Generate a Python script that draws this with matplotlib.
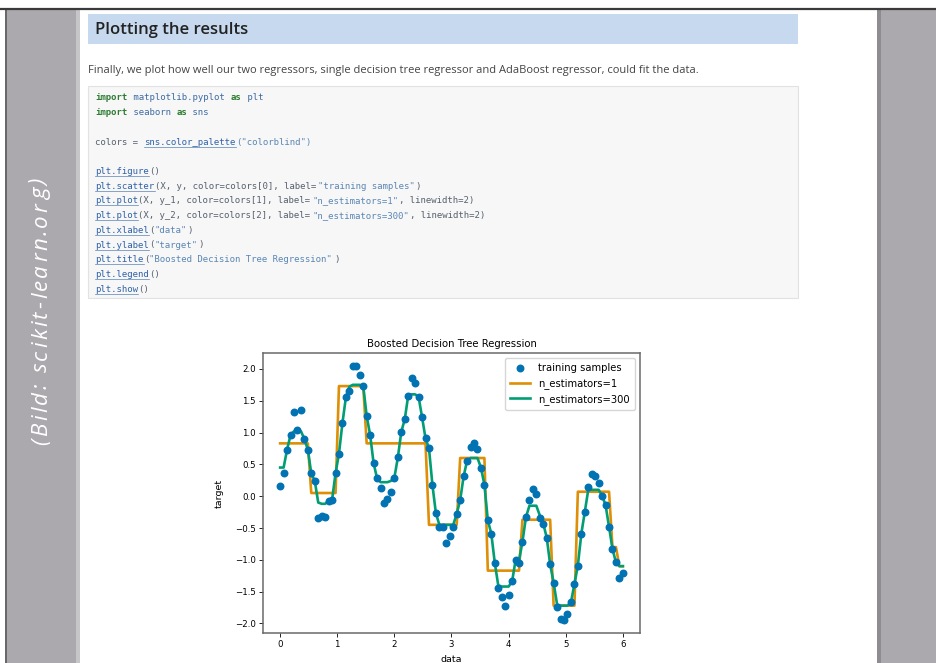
import matplotlib
matplotlib.use("Agg")
import matplotlib.pyplot as plt
from matplotlib.patches import Rectangle

# data
X = [0.0, 0.061, 0.121, 0.182, 0.242, 0.303, 0.364, 0.424, 0.485, 0.545,
     0.606, 0.667, 0.727, 0.788, 0.848, 0.909, 0.970, 1.030, 1.091, 1.152,
     1.212, 1.273, 1.333, 1.394, 1.455, 1.515, 1.576, 1.636, 1.697, 1.758,
     1.818, 1.879, 1.939, 2.0, 2.061, 2.121, 2.182, 2.242, 2.303, 2.364,
     2.424, 2.485, 2.545, 2.606, 2.667, 2.727, 2.788, 2.848, 2.909, 2.970,
     3.030, 3.091, 3.152, 3.212, 3.273, 3.333, 3.394, 3.455, 3.515, 3.576,
     3.636, 3.697, 3.758, 3.818, 3.879, 3.939, 4.0, 4.061, 4.121, 4.182,
     4.242, 4.303, 4.364, 4.424, 4.485, 4.545, 4.606, 4.667, 4.727, 4.788,
     4.848, 4.909, 4.970, 5.030, 5.091, 5.152, 5.212, 5.273, 5.333, 5.394,
     5.455, 5.515, 5.576, 5.636, 5.697, 5.758, 5.818, 5.879, 5.939, 6.0]

y = [0.16, 0.36, 0.73, 0.96, 1.32, 1.04, 1.35, 0.90, 0.73, 0.36,
     0.24, -0.34, -0.31, -0.33, -0.07, -0.06, 0.36, 0.67, 1.15, 1.56,
     1.66, 2.05, 2.05, 1.91, 1.73, 1.26, 0.96, 0.52, 0.28, 0.13,
     -0.10, -0.05, 0.06, 0.29, 0.61, 1.01, 1.21, 1.58, 1.86, 1.78,
     1.56, 1.24, 0.91, 0.75, 0.17, -0.27, -0.49, -0.48, -0.74, -0.63,
     -0.48, -0.28, -0.06, 0.31, 0.56, 0.78, 0.83, 0.74, 0.45, 0.18,
     -0.38, -0.59, -1.05, -1.45, -1.58, -1.72, -1.55, -1.34, -1.01, -1.05,
     -0.72, -0.33, -0.06, 0.12, 0.04, -0.35, -0.43, -0.65, -1.07, -1.36,
     -1.74, -1.93, -1.95, -1.85, -1.67, -1.38, -1.09, -0.59, -0.25, 0.15,
     0.35, 0.32, 0.20, 0.01, -0.14, -0.48, -0.83, -1.04, -1.28, -1.20]

y_1 = [0.83, 0.83, 0.83, 0.83, 0.83, 0.83, 0.83, 0.83, 0.83, 0.05,
       0.05, 0.05, 0.05, 0.05, 0.05, 0.05, 0.05, 1.73, 1.73, 1.73,
       1.73, 1.73, 1.73, 1.73, 1.73, 0.83, 0.83, 0.83, 0.83, 0.83,
       0.83, 0.83, 0.83, 0.83, 0.83, 0.83, 0.83, 0.83, 0.83, 0.83,
       0.83, 0.83, 0.83, -0.45, -0.45, -0.45, -0.45, -0.45, -0.45, -0.45,
       -0.45, -0.45, 0.60, 0.60, 0.60, 0.60, 0.60, 0.60, 0.60, 0.60,
       -1.17, -1.17, -1.17, -1.17, -1.17, -1.17, -1.17, -1.17, -1.17, -1.17,
       -0.37, -0.37, -0.37, -0.37, -0.37, -0.37, -0.37, -0.37, -0.37, -1.72,
       -1.72, -1.72, -1.72, -1.72, -1.72, -1.72, 0.07, 0.07, 0.07, 0.07,
       0.07, 0.07, 0.07, 0.07, 0.07, 0.07, -0.80, -0.80, -1.10, -1.10]

y_2 = [0.45, 0.45, 0.73, 0.96, 1.02, 1.03, 1.02, 0.90, 0.73, 0.36,
       0.24, -0.10, -0.12, -0.12, -0.07, -0.06, 0.36, 0.67, 1.15, 1.56,
       1.72, 1.75, 1.75, 1.75, 1.73, 1.26, 0.96, 0.52, 0.28, 0.22,
       0.22, 0.22, 0.24, 0.29, 0.61, 1.01, 1.21, 1.58, 1.60, 1.60,
       1.56, 1.24, 0.91, 0.75, 0.17, -0.27, -0.45, -0.45, -0.45, -0.45,
       -0.45, -0.28, -0.06, 0.31, 0.56, 0.60, 0.60, 0.60, 0.45, 0.18,
       -0.38, -0.59, -1.05, -1.40, -1.42, -1.42, -1.42, -1.34, -1.01, -1.01,
       -0.72, -0.33, -0.15, -0.15, -0.15, -0.30, -0.43, -0.65, -1.07, -1.36,
       -1.70, -1.72, -1.72, -1.72, -1.67, -1.38, -1.09, -0.59, -0.25, 0.10,
       0.10, 0.10, 0.10, 0.01, -0.14, -0.48, -0.83, -1.04, -1.10, -1.10]

colors = ["#0173b2", "#de8f05", "#029e73"]

KW = "#2e7d32"
NAME = "#3d6aa3"
LINK = "#2f62a8"
STR = "#5a86b5"
TXT = "#56606e"

code_lines = [
    [("import", KW), (" matplotlib.pyplot ", NAME), ("as", KW), (" plt", NAME)],
    [("import", KW), (" seaborn ", NAME), ("as", KW), (" sns", NAME)],
    [],
    [("colors = ", TXT), ("sns.color_palette", LINK), ('("colorblind")', STR)],
    [],
    [("plt.figure", LINK), ("()", TXT)],
    [("plt.scatter", LINK), ("(X, y, color=colors[0], label=", TXT),
     ('"training samples"', STR), (")", TXT)],
    [("plt.plot", LINK), ("(X, y_1, color=colors[1], label=", TXT),
     ('"n_estimators=1"', STR), (", linewidth=2)", TXT)],
    [("plt.plot", LINK), ("(X, y_2, color=colors[2], label=", TXT),
     ('"n_estimators=300"', STR), (", linewidth=2)", TXT)],
    [("plt.xlabel", LINK), ("(", TXT), ('"data"', STR), (")", TXT)],
    [("plt.ylabel", LINK), ("(", TXT), ('"target"', STR), (")", TXT)],
    [("plt.title", LINK), ("(", TXT), ('"Boosted Decision Tree Regression"', STR), (")", TXT)],
    [("plt.legend", LINK), ("()", TXT)],
    [("plt.show", LINK), ("()", TXT)],
]

credit = "(Bild: scikit-learn.org)"

W, H = 937, 663
fig = plt.figure(figsize=(W / 100, H / 100), dpi=100)
fig.patch.set_facecolor("white")

# page in pixel coordinates
bg = fig.add_axes([0, 0, 1, 1])
bg.set_xlim(0, W)
bg.set_ylim(H, 0)
bg.axis("off")

gray = "#aba9ad"
bg.add_patch(Rectangle((7, 9), 69, H, color=gray, lw=0))
bg.add_patch(Rectangle((76, 9), 4, H, color="#c6c6c8", lw=0))
bg.add_patch(Rectangle((877, 9), 4, H, color="#8e8c90", lw=0))
bg.add_patch(Rectangle((881, 9), W - 881, H, color=gray, lw=0))
bg.plot([6.5, 6.5], [9, H], color="#4a4a4a", lw=1.2)
bg.plot([0, W], [9, 9], color="#3a3a3a", lw=1.6)

# credit text with a bit of letter spacing (reads bottom to top)
renderer = fig.canvas.get_renderer()
cfont = dict(fontsize=16, style="italic", family="Open Sans")


def text_w(s):
    t = bg.text(0, 0, s, **cfont)
    w = t.get_window_extent(renderer).width
    t.remove()
    return w


base = text_w("aa")
widths = [text_w("a" + ch + "a") - base for ch in credit]
gap = max(0.5, (265 - sum(widths)) / (len(credit) - 1))
pos = 445
for ch, w in zip(credit, widths):
    bg.text(47, pos, ch, rotation=90, rotation_mode="anchor", ha="left",
            va="baseline", color="white", **cfont)
    pos -= w + gap

# heading bar
bg.add_patch(Rectangle((88, 14), 710, 30, color="#c6d9ee", lw=0))
bg.text(95, 29.5, "Plotting the results", fontsize=12, weight="semibold",
        family="Open Sans", color="#222222", va="center")

bg.text(88, 70, "Finally, we plot how well our two regressors, single decision tree "
        "regressor and AdaBoost regressor, could fit the data.",
        fontsize=8.0, family="Open Sans", color="#444444", va="center")

# code block
bg.add_patch(Rectangle((88, 86), 710, 212, facecolor="#f7f7f7",
                       edgecolor="#e2e2e2", lw=0.8))
fs = 6.5
cw = 0.6021 * fs * 100 / 72
for k, segs in enumerate(code_lines):
    ly = 98 + 14.7 * k
    col = 0
    for txt, c in segs:
        x0 = 95 + col * cw
        bg.text(x0, ly, txt, fontsize=fs, family="DejaVu Sans Mono", color=c,
                va="center", weight="bold" if c == KW else "normal")
        if c == LINK:
            bg.plot([x0, x0 + len(txt) * cw], [ly + 4.5, ly + 4.5],
                    color=c, lw=0.5, alpha=0.8)
        col += len(txt)

# the chart
ax = fig.add_axes([263 / W, 1 - 633 / H, 377 / W, 280 / H])
ax.scatter(X, y, color=colors[0], s=22, label="training samples", zorder=3)
ax.plot(X, y_1, color=colors[1], label="n_estimators=1", linewidth=1.9)
ax.plot(X, y_2, color=colors[2], label="n_estimators=300", linewidth=1.9)
ax.set_xlabel("data", fontsize=6.8, labelpad=4)
ax.set_ylabel("target", fontsize=6.8, labelpad=8)
ax.set_title("Boosted Decision Tree Regression", fontsize=7.3, pad=4)
ax.legend(fontsize=7.2, loc="upper right", framealpha=0.8, borderpad=0.5,
          handlelength=2.0)
ax.tick_params(labelsize=6.2, length=2.7, width=0.6, pad=2.5)
for sp in ax.spines.values():
    sp.set_color("#6a6a6a")
    sp.set_linewidth(1.1)

fig.savefig("out.png", dpi=100)
